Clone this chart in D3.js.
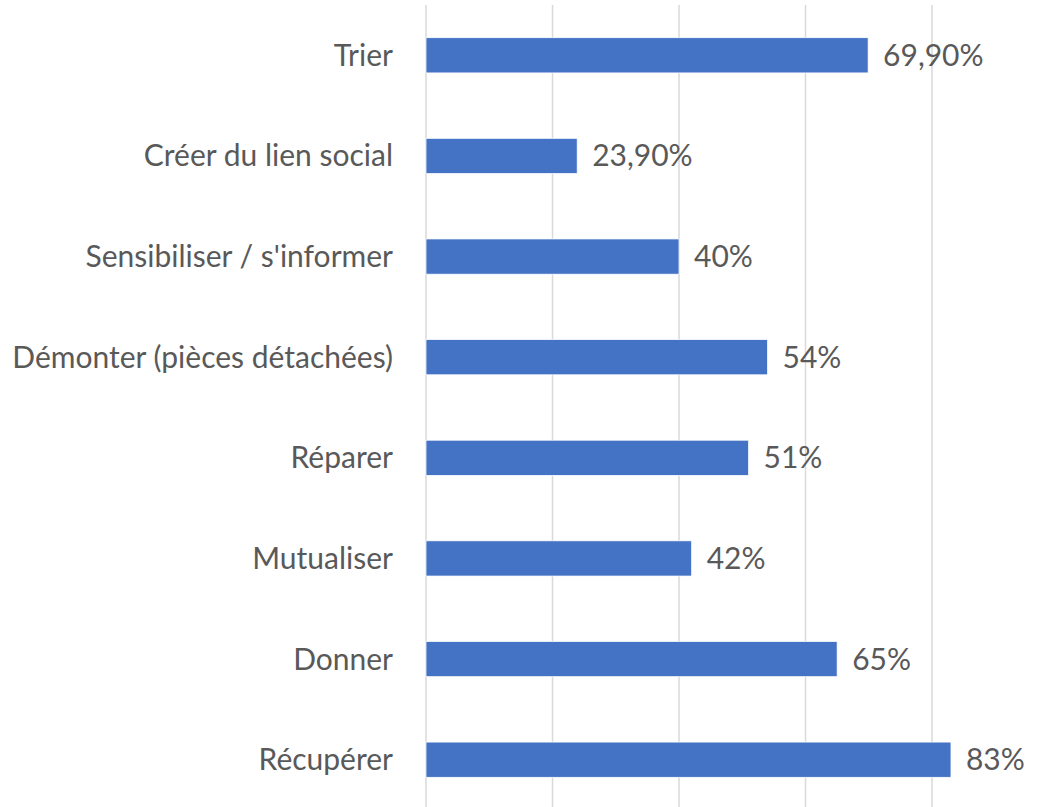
<!DOCTYPE html>
<html>
<head>
<script src="https://d3js.org/d3.v7.min.js"></script>
<style>
  body { margin: 0; background: #fff; }
  text { font-family: Lato, "Open Sans", sans-serif; fill: #595959; }
</style>
</head>
<body>
<svg width="1054" height="807"></svg>
<script>
// data
const categories = ["Trier", "Créer du lien social", "Sensibiliser / s'informer",
  "Démonter (pièces détachées)", "Réparer", "Mutualiser", "Donner", "Récupérer"];
const values = [69.9, 23.9, 40, 54, 51, 42, 65, 83];
const valueLabels = ["69,90%", "23,90%", "40%", "54%", "51%", "42%", "65%", "83%"];
const gridTicks = [0, 20, 40, 60, 80, 100];

const svg = d3.select("svg");

const x = d3.scaleLinear().domain([0, 100]).range([426, 1058.5]);
const y = d3.scaleBand().domain(categories).range([5, 810]).paddingInner(0.65).paddingOuter(0.325);

// gridlines
svg.append("g").selectAll("line")
  .data(gridTicks)
  .enter().append("line")
  .attr("x1", d => x(d)).attr("x2", d => x(d))
  .attr("y1", 5).attr("y2", 807)
  .attr("stroke", "#d9d9d9")
  .attr("stroke-width", 1.5);

// bars
svg.append("g").selectAll("rect")
  .data(values)
  .enter().append("rect")
  .attr("x", x(0))
  .attr("y", (d, i) => y(categories[i]))
  .attr("width", d => x(d) - x(0))
  .attr("height", y.bandwidth())
  .attr("fill", "#4472c4")
  .attr("stroke", "#fff")
  .attr("stroke-width", 0.75);

// category labels
svg.append("g").selectAll("text")
  .data(categories)
  .enter().append("text")
  .attr("x", x(0) - 33)
  .attr("y", d => y(d) + y.bandwidth() / 2)
  .attr("dy", "0.35em")
  .attr("text-anchor", "end")
  .attr("font-size", 30)
  .text(d => d);

// value labels
svg.append("g").selectAll("text")
  .data(values)
  .enter().append("text")
  .attr("x", d => x(d) + 15)
  .attr("y", (d, i) => y(categories[i]) + y.bandwidth() / 2)
  .attr("dy", "0.35em")
  .attr("font-size", 30)
  .text((d, i) => valueLabels[i]);
</script>
</body>
</html>
